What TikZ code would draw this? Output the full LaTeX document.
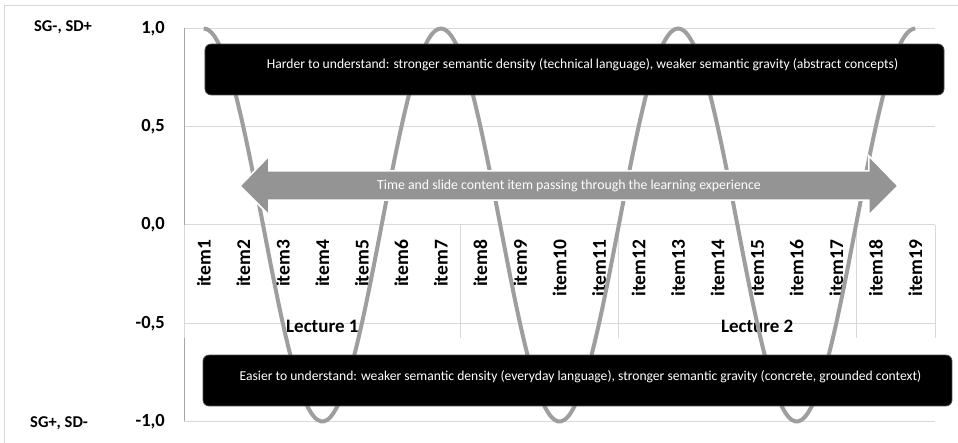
\documentclass[tikz,border=0pt]{standalone}
\usepackage{fontspec}
\setmainfont{Carlito}
\usepackage{tikz}

\begin{document}
\begin{tikzpicture}[x=39.53pt,y=196.5pt,
    gridline/.style={draw=black!15,line width=1pt},
    ticklab/.style={anchor=east,inner sep=0pt,font=\bfseries\fontsize{18.5}{18.5}\selectfont},
    itemlab/.style={rotate=90,anchor=east,inner sep=0pt,font=\bfseries\fontsize{19.5}{19.5}\selectfont},
    notebox/.style={fill=black,draw=black!70,rounded corners=6pt,line width=0.8pt},
    notetext/.style={text=white,inner sep=0pt,font=\fontsize{13.6}{14}\selectfont}]
    \useasboundingbox (-184pt,-218pt) rectangle (774pt,225pt);
    % frame
    \draw[black!15,line width=1pt] (-179pt,-218pt) -- (-179pt,219pt) -- (774pt,219pt);
    % grid and group separators
    \foreach \v in {-1,-0.5,0,0.5,1} \draw[gridline] (0,\v) -- (19,\v);
    \foreach \s in {0,7,11,17,19} \draw[gridline] (\s,0) -- (\s,-0.575);
    \draw[black!35,line width=1pt] (0,1) -- (0,0);
    \draw[black!35,line width=1pt] (0,-0.575) -- (0,-1);
    % value axis
    \foreach \v/\t in {1/{1,0},0.5/{0,5},0/{0,0},-0.5/{-0,5},-1/{-1,0}}
      \node[ticklab] (tick\v) at (-0.48,\v) {\t};
    \node[font=\bfseries\fontsize{16.5}{16.5}\selectfont] (sgtop) at (-3.06,1.008) {SG-, SD+};
    \node[font=\bfseries\fontsize{16.5}{16.5}\selectfont] (sgbot) at (-3.16,-1.008) {SG+, SD-};
    % category axis
    \foreach \i in {1,...,19}
      \node[itemlab] (item\i) at (\i-0.5,-0.075) {item\i};
    \node[font=\bfseries\fontsize{19}{19}\selectfont] (lect1) at (3.5,-0.514) {Lecture 1};
    \node[font=\bfseries\fontsize{19}{19}\selectfont] (lect2) at (14.5,-0.514) {Lecture 2};
    % the wave
    \draw[black!38,line width=4pt] plot[domain=0.5:18.5,samples=220,smooth] (\x,{cos(60*(\x-0.5))});
    % the two notes
    \draw[notebox] (0.531,0.921) rectangle (19.226,0.662);
    \node[notetext] (hard) at (10.08,0.814) {Harder to understand: stronger semantic density (technical language), weaker semantic gravity (abstract concepts)};
    \draw[notebox] (0.481,-0.662) rectangle (19.428,-0.921);
    \node[notetext] (easy) at (10.03,-0.7735) {Easier to understand: weaker semantic density (everyday language), stronger semantic gravity (concrete, grounded context)};
    % time arrow
    \filldraw[fill=black!42,draw=white,line width=1.5pt] (1.417,0.1985) -- (2.150,0.3511) -- (2.150,0.2748) -- (17.326,0.2748) -- (17.326,0.3511) -- (18.062,0.1985) -- (17.326,0.0509) -- (17.326,0.1272) -- (2.150,0.1272) -- (2.150,0.0509) -- cycle;
    \node[text=white,inner sep=0pt,font=\fontsize{13.8}{14}\selectfont] (flow) at (9.74,0.1985) {Time and slide content item passing through the learning experience};
\end{tikzpicture}
\end{document}
